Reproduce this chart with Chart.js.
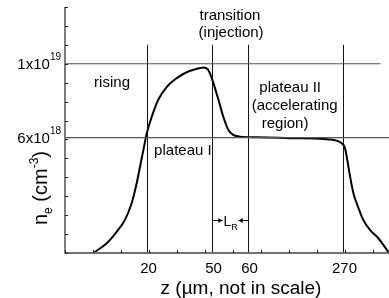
<!DOCTYPE html>
<html>
<head>
<meta charset="utf-8">
<script src="https://cdn.jsdelivr.net/npm/chart.js@4.4.1/dist/chart.umd.min.js"></script>
<style>
  html, body { margin: 0; padding: 0; background: #fff; }
</style>
</head>
<body>
<canvas id="c" width="389" height="298"></canvas>
<script>
// z is in axis units (one minor tick = 1), the axis is not in scale
const zPos = [1.01, 1.49, 1.85, 2.14, 2.38, 2.56, 2.68, 2.80, 2.92, 3.10, 3.33, 3.63, 3.99, 4.40,
    4.82, 4.95, 5.10, 5.20, 5.30, 5.48, 5.65, 5.83, 6.01, 6.25, 6.85, 8.04, 9.23, 9.70, 9.88,
    10.0, 10.08, 10.18, 10.30, 10.48, 10.65, 10.89, 11.19, 11.57];
// electron density, 1e18 cm^-3
const density = [0, 0.51, 1.13, 1.75, 2.63, 3.69, 4.57, 5.45, 6.33, 7.21, 8.10, 8.77, 9.24, 9.59,
    9.77, 9.80, 9.70, 9.40, 8.98, 8.10, 7.21, 6.51, 6.24, 6.15, 6.12, 6.07, 6.02, 5.94, 5.80,
    5.54, 4.92, 4.04, 3.16, 2.37, 1.75, 1.22, 0.78, 0];

// region boundaries on the z axis
const zMarks = [2.946, 5.268, 6.554, 9.946];
const zMarkLabels = ['20', '50', '60', '270'];
const markTop = 11;

// reference density levels
const nLevels = [10, 6.1];
const nLevelEnds = [11.27, 11.57];
const nLevelLabels = [['1x10', '19'], ['6x10', '18']];

const notes = [
    { text: 'transition', z: 5.89, n: 12.33 },
    { text: '(injection)', z: 5.93, n: 11.43 },
    { text: 'rising', z: 1.68, n: 8.78 },
    { text: 'plateau I', z: 4.21, n: 5.16 },
    { text: 'plateau II', z: 8.04, n: 8.49 },
    { text: '(accelerating', z: 8.20, n: 7.54 },
    { text: 'region)', z: 7.86, n: 6.59 },
];
const lrLevel = 1.75;

const FONT = "'Liberation Sans', Arial, sans-serif";

function richText(ctx, x, y, parts, align) {
    // parts: [text, size, dy]
    let w = 0;
    parts.forEach(p => {
        ctx.font = p[1] + 'px ' + FONT;
        w += ctx.measureText(p[0]).width;
    });
    let cx = align === 'right' ? x - w : align === 'center' ? x - w / 2 : x;
    ctx.textAlign = 'left';
    parts.forEach(p => {
        ctx.font = p[1] + 'px ' + FONT;
        ctx.fillText(p[0], cx, y + (p[2] || 0));
        cx += ctx.measureText(p[0]).width;
    });
    return w;
}

const frame = {
    id: 'frame',
    afterDatasetsDraw(chart) {
        const { ctx, chartArea: a, scales: { x, y } } = chart;
        ctx.save();

        // axes
        ctx.strokeStyle = '#707070';
        ctx.lineWidth = 1.8;
        ctx.beginPath();
        ctx.moveTo(a.left, a.top);
        ctx.lineTo(a.left, a.bottom);
        ctx.lineTo(a.right, a.bottom);
        ctx.stroke();

        // minor ticks, inside
        ctx.strokeStyle = '#222';
        ctx.lineWidth = 1;
        ctx.beginPath();
        for (let v = y.min; v <= y.max + 1e-6; v += 1) {
            const py = Math.round(y.getPixelForValue(v)) + 0.5;
            ctx.moveTo(a.left, py);
            ctx.lineTo(a.left + 3, py);
        }
        for (let v = x.min; v <= x.max; v += 1) {
            const px = Math.round(x.getPixelForValue(v)) + 0.5;
            ctx.moveTo(px, a.bottom);
            ctx.lineTo(px, a.bottom - 3);
        }
        ctx.stroke();

        ctx.fillStyle = '#000';
        ctx.textBaseline = 'alphabetic';

        // y labels
        nLevels.forEach((lv, i) => {
            const py = y.getPixelForValue(lv);
            ctx.font = '10px ' + FONT;
            const sw = ctx.measureText(nLevelLabels[i][1]).width;
            ctx.font = '15px ' + FONT;
            const bw = ctx.measureText(nLevelLabels[i][0]).width;
            richText(ctx, a.left - 4 - sw - bw, py + 5,
                [[nLevelLabels[i][0], 15], [nLevelLabels[i][1], 10, -9]], 'left');
        });

        // z labels
        ctx.font = '15px ' + FONT;
        ctx.textAlign = 'center';
        zMarks.forEach((m, i) => {
            ctx.fillText(zMarkLabels[i], x.getPixelForValue(m) + 1, a.bottom + 20);
        });

        // axis titles
        ctx.font = '19px ' + FONT;
        ctx.fillText('z (\u00b5m, not in scale)', 241, a.bottom + 41);

        ctx.save();
        ctx.translate(47, 188);
        ctx.rotate(-Math.PI / 2);
        richText(ctx, 0, 0, [['n', 20], ['e', 12, 5], [' (cm', 20], ['-3', 12, -9], [')', 20]], 'center');
        ctx.restore();

        // region notes
        ctx.font = '15px ' + FONT;
        ctx.textAlign = 'center';
        notes.forEach(t => {
            ctx.fillText(t.text, x.getPixelForValue(t.z), y.getPixelForValue(t.n));
        });

        // L_R between the 50 and 60 boundaries
        const x1 = x.getPixelForValue(zMarks[1]);
        const x2 = x.getPixelForValue(zMarks[2]);
        const ly = Math.round(y.getPixelForValue(lrLevel)) + 0.5;
        const mid = (x1 + x2) / 2;
        const w = richText(ctx, mid, ly + 5, [['L', 14], ['R', 9, 4]], 'center');
        ctx.strokeStyle = '#000';
        ctx.lineWidth = 1;
        ctx.beginPath();
        ctx.moveTo(x1, ly);
        ctx.lineTo(mid - w / 2 - 1, ly);
        ctx.moveTo(mid + w / 2 + 1, ly);
        ctx.lineTo(x2, ly);
        ctx.stroke();
        ctx.beginPath();
        ctx.moveTo(mid - w / 2 - 1, ly);
        ctx.lineTo(mid - w / 2 - 5, ly - 2.5);
        ctx.lineTo(mid - w / 2 - 5, ly + 2.5);
        ctx.closePath();
        ctx.moveTo(mid + w / 2 + 1, ly);
        ctx.lineTo(mid + w / 2 + 5, ly - 2.5);
        ctx.lineTo(mid + w / 2 + 5, ly + 2.5);
        ctx.closePath();
        ctx.fillStyle = '#000';
        ctx.fill();

        ctx.restore();
    },
};

const refSets = [];
nLevels.forEach((lv, i) => {
    refSets.push({
        data: [{ x: 0, y: lv }, { x: nLevelEnds[i], y: lv }],
        borderColor: '#555',
        borderWidth: 1.2,
    });
});
zMarks.forEach(m => {
    refSets.push({
        data: [{ x: m, y: 0 }, { x: m, y: markTop }],
        borderColor: '#111',
        borderWidth: 1,
    });
});

new Chart(document.getElementById('c'), {
    type: 'line',
    data: {
        datasets: [
            ...refSets,
            {
                data: zPos.map((z, i) => ({ x: z, y: density[i] })),
                borderColor: '#000',
                borderWidth: 2,
                cubicInterpolationMode: 'monotone',
            },
        ],
    },
    options: {
        responsive: false,
        animation: false,
        devicePixelRatio: 1,
        layout: { padding: { left: 65, right: 0, top: 7, bottom: 45 } },
        elements: { point: { radius: 0 } },
        plugins: { legend: { display: false }, tooltip: { enabled: false } },
        scales: {
            x: { type: 'linear', min: 0, max: 11.57, display: false },
            y: { type: 'linear', min: 0, max: 13, display: false },
        },
    },
    plugins: [frame],
});
</script>
</body>
</html>
